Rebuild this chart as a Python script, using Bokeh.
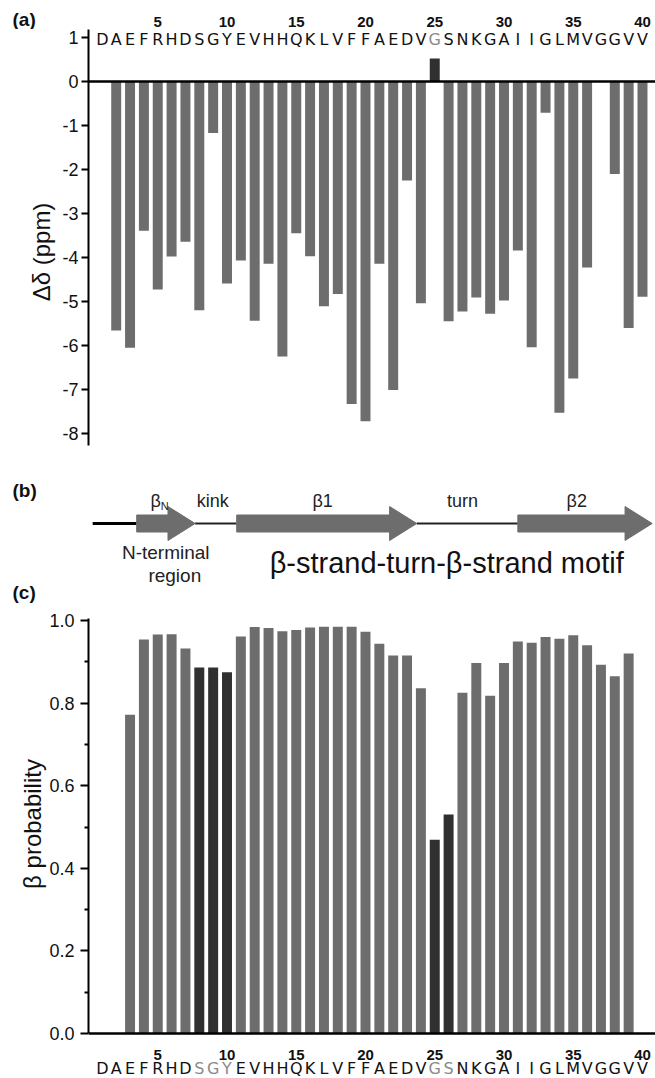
from bokeh.plotting import figure
from bokeh.layouts import column
from bokeh.models import Range1d, FixedTicker, Span
from bokeh.core.properties import value
from bokeh.embed import file_html
from bokeh.resources import INLINE

# ---------------- data ----------------
sequence = list("DAEFRHDSGYEVHHQKLVFFAEDVGSNKGAIIGLMVGGVV")
seq_residues = list(range(1, 41))
number_ticks = [5, 10, 15, 20, 25, 30, 35, 40]
number_labels = ["5", "10", "15", "20", "25", "30", "35", "40"]
seq_gray_top = [25]
seq_gray_bottom = [8, 9, 10, 25, 26]

# (a) chemical shift differences
shift_residues = list(range(2, 37)) + [38, 39, 40]
shift_values = [-5.66, -6.05, -3.39, -4.73, -3.98, -3.64, -5.20, -1.17, -4.59, -4.07,
                -5.44, -4.14, -6.25, -3.45, -3.97, -5.11, -4.83, -7.33, -7.72, -4.14,
                -7.01, -2.25, -5.04, 0.52, -5.45, -5.23, -4.91, -5.28, -4.98, -3.84,
                -6.04, -0.71, -7.53, -6.75, -4.23, -2.10, -5.60, -4.89]
shift_dark = [25]

# (c) beta probability
prob_residues = list(range(3, 40))
prob_values = [0.772, 0.954, 0.966, 0.967, 0.932, 0.886, 0.886, 0.875, 0.961, 0.984,
               0.982, 0.974, 0.977, 0.983, 0.985, 0.985, 0.985, 0.973, 0.944, 0.915,
               0.915, 0.836, 0.469, 0.530, 0.825, 0.897, 0.818, 0.897, 0.949, 0.946,
               0.960, 0.956, 0.964, 0.940, 0.893, 0.865, 0.920]
prob_dark = [8, 9, 10, 25, 26]

# (b) secondary structure (residue units)
ss_kind = ["coil", "strand", "coil", "strand", "coil", "strand"]
ss_start = [0.3, 3.48, 7.7, 10.7, 23.7, 31.0]
ss_end = [3.48, 7.7, 10.7, 23.7, 31.0, 40.7]
ss_labels = ["β", "kink", "β1", "turn", "β2"]
ss_label_x = [5.22, 8.97, 16.9, 27.0, 35.25]
region_labels = ["N-terminal", "region", "β-strand-turn-β-strand motif"]
region_label_x = [5.58, 6.23, 25.86]
panel_labels = ["(a)", "(b)", "(c)"]

# ---------------- style / layout ----------------
GRAY = "#6d6d6d"
DARK = "#303030"
FONT = "Liberation Sans"
W = 655
LEFT = 88
PX_PER_RES = 13.85
X_END = (W - LEFT) / PX_PER_RES
X_START_FULL = -LEFT / PX_PER_RES
PANEL_LABEL_X = (12 - LEFT) / PX_PER_RES


def make_fig(height, x_range, y_range, yaxis=True):
    p = figure(width=W, height=height, x_range=x_range, y_range=y_range,
               output_backend="svg", toolbar_location=None,
               x_axis_location=None, y_axis_location="left" if yaxis else None,
               min_border_left=LEFT if yaxis else 0, min_border_right=0,
               min_border_top=0, min_border_bottom=0)
    if "frame_align" in p.properties():
        p.frame_align = False
    p.outline_line_color = None
    p.xgrid.visible = False
    p.ygrid.visible = False
    p.background_fill_color = "white"
    p.border_fill_color = "white"
    return p


def style_y(ax, label, tick_out, label_standoff, title_standoff):
    ax.axis_line_width = 2
    ax.axis_line_color = "black"
    ax.major_tick_line_width = 2
    ax.minor_tick_line_width = 2
    ax.major_tick_out = tick_out
    ax.major_tick_in = 0
    ax.minor_tick_out = 4
    ax.minor_tick_in = 0
    ax.major_label_text_font = FONT
    ax.major_label_text_font_size = "18px"
    ax.major_label_text_color = "#111111"
    ax.major_label_standoff = label_standoff
    ax.axis_label = label
    ax.axis_label_text_font = FONT
    ax.axis_label_text_font_style = "normal"
    ax.axis_label_text_font_size = "24px"
    ax.axis_label_text_color = "#111111"
    ax.axis_label_standoff = title_standoff


def panel_label(p, text, y):
    p.text(x=[PANEL_LABEL_X], y=[y], text=[text], text_align="left", text_baseline="middle",
           text_font=value(FONT), text_font_size="19px", text_font_style="bold",
           text_color="#111111")


def residue_numbers(p, y):
    p.text(x=number_ticks, y=y, text=number_labels, text_align="center", text_baseline="middle",
           text_font=value(FONT), text_font_size="15px", text_font_style="bold",
           text_color="#111111")


def residue_letters(p, y, gray):
    cols = ["#8a8a8a" if r in gray else "#111111" for r in seq_residues]
    p.text(x=seq_residues, y=y, text=sequence, text_align="center", text_baseline="middle",
           text_font=value("DejaVu Sans"), text_font_size="16px", text_color=cols)


# ---------------- header strip: (a) + residue numbers ----------------
h0 = 29
p0 = make_fig(h0, Range1d(X_START_FULL, X_END), Range1d(h0, 0), yaxis=False)
panel_label(p0, panel_labels[0], 19)
residue_numbers(p0, 21)

# ---------------- (a) ----------------
A_ZERO, A_SCALE, A_TOP = 81, 44.0, h0
a_height = 474 - A_TOP
a_top = (A_ZERO - A_TOP) / A_SCALE
p1 = make_fig(a_height, Range1d(0, X_END), Range1d(a_top - a_height / A_SCALE, a_top))
style_y(p1.yaxis[0], "Δδ (ppm)", 7, 3, 4)
p1.yaxis[0].ticker = FixedTicker(ticks=list(range(-8, 2)))
p1.yaxis[0].major_label_overrides = {t: str(t) for t in range(-8, 2)}
p1.yaxis[0].bounds = (-8.27, 1.2)

shift_colors = [DARK if r in shift_dark else GRAY for r in shift_residues]
p1.vbar(x=shift_residues, top=shift_values, bottom=0, width=0.72,
        fill_color=shift_colors, line_color=None)
p1.add_layout(Span(location=0, dimension="width", line_color="black", line_width=2.5))
residue_letters(p1, 0.955, seq_gray_top)

# ---------------- (b) ----------------
b_height = 130
p2 = make_fig(b_height, Range1d(X_START_FULL, X_END), Range1d(b_height, 0), yaxis=False)
yc = 49
body_half, head_half, head_len = 8.5, 17, 1.96

coil_x0 = [s for s, k in zip(ss_start, ss_kind) if k == "coil"]
coil_x1 = [e for e, k in zip(ss_end, ss_kind) if k == "coil"]
p2.segment(x0=coil_x0, y0=[yc] * len(coil_x0), x1=coil_x1, y1=[yc] * len(coil_x1),
           line_width=[3, 2, 2], line_color=["#000000", "#222222", "#222222"])

xs, ys = [], []
for s, e, k in zip(ss_start, ss_end, ss_kind):
    if k != "strand":
        continue
    hb = e - head_len
    xs.append([s, hb, hb, e, hb, hb, s])
    ys.append([yc - body_half, yc - body_half, yc - head_half, yc,
               yc + head_half, yc + body_half, yc + body_half])
p2.patches(xs=xs, ys=ys, fill_color=GRAY, line_color=GRAY, line_width=1)

p2.text(x=ss_label_x[1:], y=26, text=ss_labels[1:], text_align="center", text_baseline="middle",
        text_font=value(FONT), text_font_size="18px", text_color="#222222")
p2.text(x=[ss_label_x[0]], y=26, text=[ss_labels[0]], text_align="right", text_baseline="middle",
        text_font=value(FONT), text_font_size="18px", text_color="#222222")
p2.text(x=[ss_label_x[0]], y=31, text=["N"], text_align="left", text_baseline="middle",
        text_font=value(FONT), text_font_size="11px", text_color="#222222")
p2.text(x=region_label_x[:2], y=[78, 101], text=region_labels[:2], text_align="center",
        text_baseline="middle", text_font=value(FONT), text_font_size="19px", text_color="#222222")
p2.text(x=region_label_x[2:], y=[88], text=region_labels[2:], text_align="center",
        text_baseline="middle", text_font=value(FONT), text_font_size="29px", text_color="#111111")
panel_label(p2, panel_labels[1], 16)
panel_label(p2, panel_labels[2], 118)

# ---------------- (c) ----------------
C_ZERO, C_SCALE, C_TOP = 1033, 413.0, 604
c_height = 1043 - C_TOP
c_top = (C_ZERO - C_TOP) / C_SCALE
p3 = make_fig(c_height, Range1d(0, X_END), Range1d(c_top - c_height / C_SCALE, c_top))
style_y(p3.yaxis[0], "β probability", 8, 6, 0)
p3.yaxis[0].ticker = FixedTicker(ticks=[0, 0.2, 0.4, 0.6, 0.8, 1.0],
                                 minor_ticks=[0.1, 0.3, 0.5, 0.7, 0.9])
p3.yaxis[0].major_label_overrides = {0: "0.0", 0.2: "0.2", 0.4: "0.4", 0.6: "0.6",
                                     0.8: "0.8", 1.0: "1.0"}
p3.yaxis[0].bounds = (0, 1.005)

prob_colors = [DARK if r in prob_dark else GRAY for r in prob_residues]
p3.vbar(x=prob_residues, top=prob_values, bottom=0, width=0.72,
        fill_color=prob_colors, line_color=None)
p3.add_layout(Span(location=0, dimension="width", line_color="black", line_width=2.5))

# ---------------- footer strip: residue numbers + sequence ----------------
h4 = 1078 - 1043
p4 = make_fig(h4, Range1d(X_START_FULL, X_END), Range1d(h4, 0), yaxis=False)
residue_numbers(p4, 11)
residue_letters(p4, 25, seq_gray_bottom)

layout = column(p0, p1, p2, p3, p4, spacing=0)
open("out.html", "w").write(file_html(layout, INLINE))
